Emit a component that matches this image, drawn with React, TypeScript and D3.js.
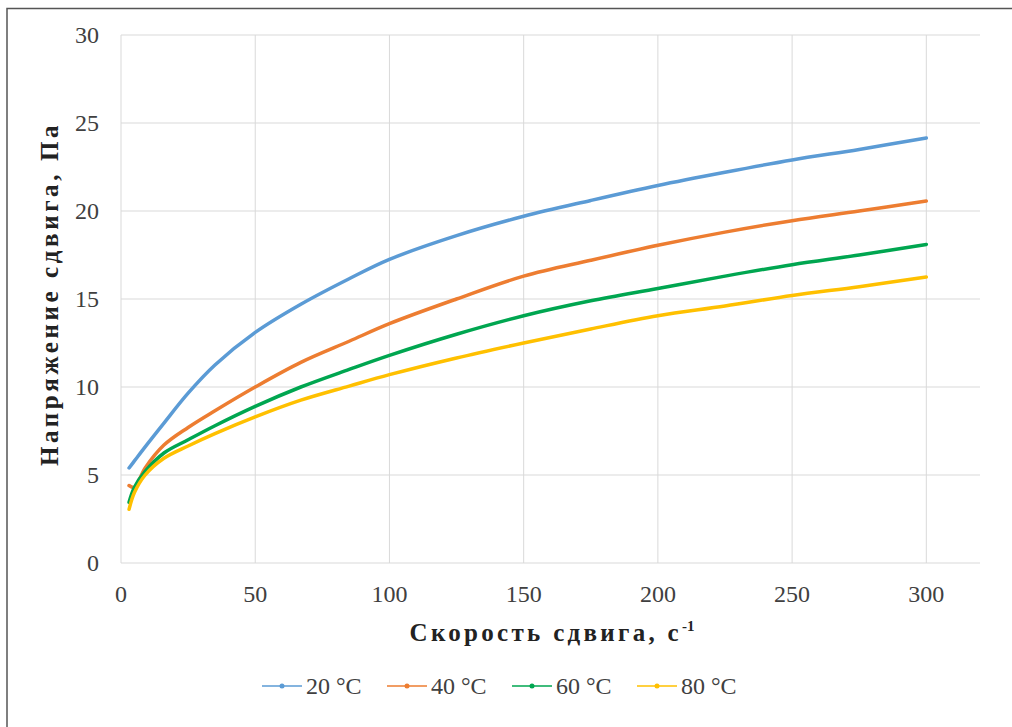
import React from "react";
import * as d3 from "d3";

const shearRate = [3, 5, 9, 16, 25, 35, 50, 67, 85, 100, 125, 150, 175, 200, 225, 250, 275, 300];
const stress20 = [5.4, 5.8, 6.6, 7.95, 9.65, 11.25, 13.1, 14.7, 16.15, 17.25, 18.6, 19.7, 20.6, 21.45, 22.2, 22.9, 23.5, 24.15];
const stress40 = [4.4, 4.3, 5.4, 6.7, 7.7, 8.65, 10.0, 11.4, 12.6, 13.6, 15.0, 16.3, 17.2, 18.05, 18.8, 19.45, 20.0, 20.57];
const stress60 = [3.45, 4.3, 5.2, 6.25, 7.0, 7.8, 8.9, 10.0, 11.0, 11.8, 13.0, 14.05, 14.9, 15.6, 16.3, 16.95, 17.5, 18.1];
const stress80 = [3.05, 4.0, 5.0, 5.95, 6.65, 7.35, 8.3, 9.25, 10.05, 10.7, 11.65, 12.5, 13.3, 14.05, 14.6, 15.2, 15.7, 16.25];

const seriesNames = ["20 °C", "40 °C", "60 °C", "80 °C"];
const seriesColors = ["#5B9BD5", "#ED7D31", "#00A650", "#FFC000"];
const seriesValues = [stress20, stress40, stress60, stress80];

const xTicks = [0, 50, 100, 150, 200, 250, 300];
const yTicks = [0, 5, 10, 15, 20, 25, 30];

const xTitle = "Скорость сдвига, с";
const yTitle = "Напряжение сдвига, Па";

const FONT = '"Liberation Serif", "Times New Roman", "DejaVu Serif", serif';

export default function App() {
  const W = 1012;
  const H = 727;
  const left = 121;
  const right = 980;
  const top = 35;
  const bottom = 563;

  const x = d3.scaleLinear().domain([0, 320]).range([left, right]);
  const y = d3.scaleLinear().domain([0, 30]).range([bottom, top]);

  const line = d3
    .line<number>()
    .x((_, i) => x(shearRate[i]))
    .y((d) => y(d))
    .curve(d3.curveCatmullRom.alpha(0.5));

  const legendX = [262, 387, 512, 637];
  const txt = { fontFamily: FONT };

  return (
    <svg
      width={W}
      height={H}
      style={{ position: "absolute", left: 0, top: 0, background: "#fff", fontFamily: FONT }}
    >
      <rect x={7} y={8.5} width={1020} height={740} fill="#fff" stroke="#555" strokeWidth={1.5} />

      {xTicks.map((t) => (
        <line key={"gx" + t} x1={x(t)} x2={x(t)} y1={top} y2={bottom} stroke="#d9d9d9" strokeWidth={1} />
      ))}
      {yTicks.map((t) => (
        <line key={"gy" + t} x1={left} x2={right} y1={y(t)} y2={y(t)} stroke="#d9d9d9" strokeWidth={1} />
      ))}

      {yTicks.map((t) => (
        <text key={"ty" + t} style={txt} x={99} y={y(t)} dy="0.35em" textAnchor="end" fontSize={24} fill="#404040">
          {t}
        </text>
      ))}
      {xTicks.map((t) => (
        <text key={"tx" + t} style={txt} x={x(t)} y={602} textAnchor="middle" fontSize={24} fill="#404040">
          {t}
        </text>
      ))}

      {seriesValues.map((vals, i) => (
        <path
          key={"s" + i}
          d={line(vals) || ""}
          fill="none"
          stroke={seriesColors[i]}
          strokeWidth={3.5}
          strokeLinecap="round"
          strokeLinejoin="round"
        />
      ))}

      <text style={txt} x={552} y={641} textAnchor="middle" fontSize={25} fontWeight="bold" letterSpacing={3.3} fill="#222">
        {xTitle}
        <tspan dy={-10} fontSize={15} letterSpacing={0}>-1</tspan>
      </text>
      <text
        style={txt}
        transform={`translate(58, ${294}) rotate(-90)`}
        textAnchor="middle"
        fontSize={25}
        fontWeight="bold"
        letterSpacing={3.6}
        fill="#222"
      >
        {yTitle}
      </text>

      {seriesNames.map((name, i) => (
        <g key={"l" + i}>
          <line x1={legendX[i]} x2={legendX[i] + 40} y1={686} y2={686} stroke={seriesColors[i]} strokeWidth={1.5} />
          <circle cx={legendX[i] + 20} cy={686} r={2.5} fill={seriesColors[i]} />
          <text style={txt} x={legendX[i] + 44} y={686} dy="0.35em" fontSize={24} fill="#404040">
            {name}
          </text>
        </g>
      ))}
    </svg>
  );
}
